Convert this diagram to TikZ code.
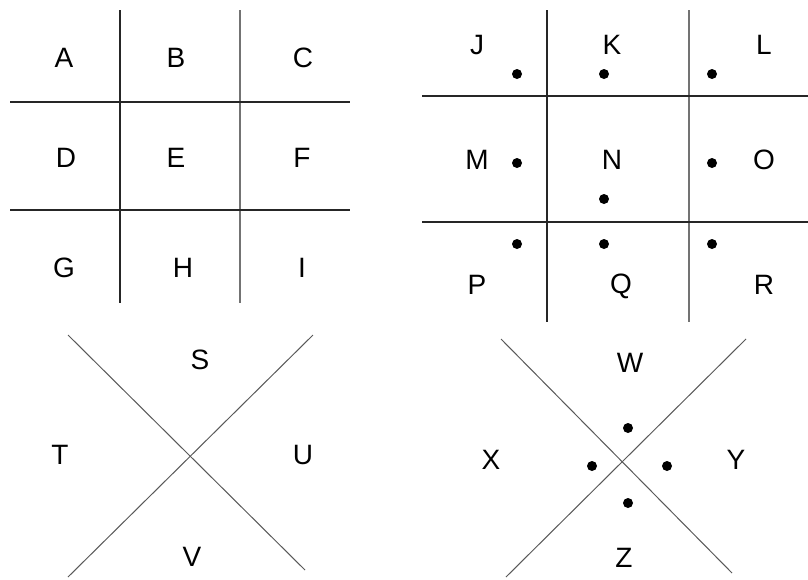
\documentclass[tikz,border=0pt]{standalone}
\usepackage{fontspec}
\setmainfont{Liberation Sans}
\begin{document}
\begin{tikzpicture}[x=1pt,y=-1pt,
  gridline/.style={line width=1.5pt,draw=black!85},
  lightline/.style={line width=1.2pt,draw=black!55},
  xline/.style={line width=1pt,draw=black!65},
  letter/.style={inner sep=0pt,anchor=center,font=\fontsize{28}{31}\selectfont},
  pdot/.style={circle,fill=black,inner sep=0pt,minimum size=10pt}]
\useasboundingbox[fill=white] (0,0) rectangle (808,579);
% grid 1
\draw[gridline] (120,10) -- (120,303);
\draw[lightline] (240,10) -- (240,303);
\draw[gridline] (10,102) -- (350,102);
\draw[gridline] (10,210) -- (350,210);
\node[letter] (A) at (64,58) {A};
\node[letter] (B) at (176,58) {B};
\node[letter] (C) at (303,58) {C};
\node[letter] (D) at (66,158) {D};
\node[letter] (E) at (176,158) {E};
\node[letter] (F) at (302,158) {F};
\node[letter] (G) at (64,268) {G};
\node[letter] (H) at (183,268) {H};
\node[letter] (I) at (302,268) {I};
% grid 2
\draw[gridline] (547,10) -- (547,322);
\draw[lightline] (689,10) -- (689,322);
\draw[gridline] (422,96) -- (808,96);
\draw[gridline] (422,222) -- (808,222);
\node[letter] (J) at (477,45) {J};
\node[letter] (K) at (612,45) {K};
\node[letter] (L) at (764,45) {L};
\node[letter] (M) at (477,160) {M};
\node[letter] (N) at (612,160) {N};
\node[letter] (O) at (764,160) {O};
\node[letter] (P) at (477,285) {P};
\node[letter] (Q) at (621,286) {Q};
\node[letter] (R) at (764,285) {R};
\node[pdot] (dJ) at (517,74) {};
\node[pdot] (dK) at (604,74) {};
\node[pdot] (dL) at (712,74) {};
\node[pdot] (dM) at (517,163) {};
\node[pdot] (dN) at (604,199) {};
\node[pdot] (dO) at (712,163) {};
\node[pdot] (dP) at (517,244) {};
\node[pdot] (dQ) at (604,244) {};
\node[pdot] (dR) at (712,244) {};
% X 1
\draw[xline] (68,335) -- (305,570);
\draw[xline] (313,335) -- (68,577);
\node[letter] (S) at (200,360) {S};
\node[letter] (T) at (60,455) {T};
\node[letter] (U) at (303,455) {U};
\node[letter] (V) at (192,557) {V};
% X 2
\draw[xline] (501,339) -- (732,573);
\draw[xline] (746,339) -- (506,577);
\node[letter] (W) at (630,363) {W};
\node[letter] (X) at (491,460) {X};
\node[letter] (Y) at (736,460) {Y};
\node[letter] (Z) at (624,558) {Z};
\node[pdot] (dW) at (628,428) {};
\node[pdot] (dX) at (592,466) {};
\node[pdot] (dY) at (667,466) {};
\node[pdot] (dZ) at (628,503) {};
\end{tikzpicture}
\end{document}
